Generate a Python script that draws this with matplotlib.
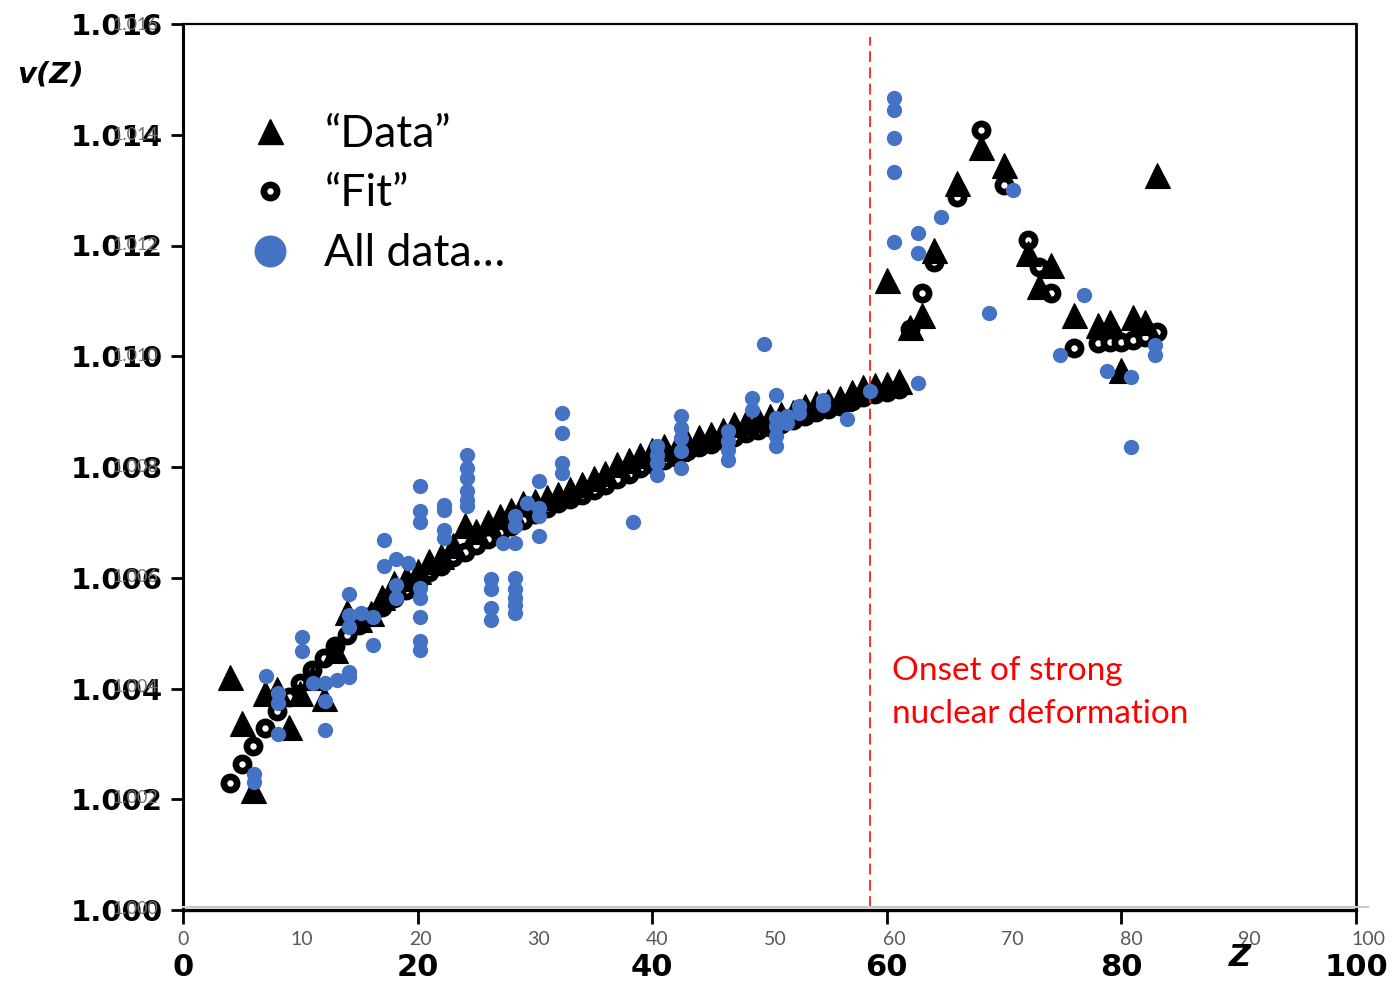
import matplotlib
matplotlib.use("Agg")
import matplotlib.pyplot as plt
from matplotlib.lines import Line2D

# ---- scanned reference curve: measured v(Z) ("Data") and model ("Fit") ----
data_z = [4, 5, 6, 7, 8, 9, 10, 11, 12, 13, 14, 15, 16, 17, 18, 19, 20, 21, 22, 23,
          24, 25, 26, 27, 28, 29, 30, 31, 32, 33, 34, 35, 36, 37, 38, 39, 40, 41, 42,
          43, 44, 45, 46, 47, 48, 49, 50, 51, 52, 53, 54, 55, 56, 57, 58, 59, 60, 61,
          60, 62, 63, 64, 66, 68, 70, 72, 73, 74, 76, 78, 79, 80, 81, 82, 83]
data_v = [1.00421, 1.00338, 1.00217, 1.00392, 1.00400, 1.00331, 1.00392, 1.00420,
          1.00383, 1.00470, 1.00538, 1.00525, 1.00537, 1.00565, 1.00590, 1.00600,
          1.00612, 1.00630, 1.00640, 1.00660, 1.00695, 1.00685, 1.00700, 1.00712,
          1.00722, 1.00735, 1.00738, 1.00745, 1.00752, 1.00760, 1.00770, 1.00780,
          1.00790, 1.00805, 1.00812, 1.00822, 1.00830, 1.00838, 1.00835, 1.00845,
          1.00855, 1.00860, 1.00866, 1.00878, 1.00882, 1.00886, 1.00892, 1.00895,
          1.00900, 1.00910, 1.00915, 1.00920, 1.00925, 1.00935, 1.00945, 1.00948,
          1.00950, 1.00955,
          1.01138, 1.01053, 1.01075, 1.01192, 1.01313, 1.01377, 1.01346, 1.01187,
          1.01126, 1.01165, 1.01075, 1.01057, 1.01061, 1.00976, 1.01070, 1.01061,
          1.01328]

fit_z = [4, 5, 6, 7, 8, 9, 10, 11, 12, 13, 14, 15, 16, 17, 18, 19, 20, 21, 22, 23,
         24, 25, 26, 27, 28, 29, 30, 31, 32, 33, 34, 35, 36, 37, 38, 39, 40, 41, 42,
         43, 44, 45, 46, 47, 48, 49, 50, 51, 52, 53, 54, 55, 56, 57, 58, 59, 60, 61,
         62, 63, 64, 66, 68, 70, 72, 73, 74, 76, 78, 79, 80, 81, 82, 83]
fit_v = [1.00229, 1.00264, 1.00296, 1.00329, 1.00360, 1.00385, 1.00410, 1.00434,
         1.00455, 1.00477, 1.00497, 1.00515, 1.00531, 1.00547, 1.00564, 1.00578,
         1.00593, 1.00611, 1.00621, 1.00638, 1.00647, 1.00659, 1.00670, 1.00683,
         1.00694, 1.00705, 1.00715, 1.00726, 1.00735, 1.00743, 1.00750, 1.00759,
         1.00768, 1.00779, 1.00788, 1.00799, 1.00806, 1.00813, 1.00818, 1.00829,
         1.00837, 1.00842, 1.00849, 1.00855, 1.00862, 1.00867, 1.00873, 1.00878,
         1.00885, 1.00893, 1.00900, 1.00905, 1.00911, 1.00920, 1.00927, 1.00932,
         1.00936, 1.00940,
         1.01050, 1.01115, 1.01171, 1.01288, 1.01409, 1.01310, 1.01210, 1.01162,
         1.01115, 1.01014, 1.01024, 1.01026, 1.01026, 1.01030, 1.01035, 1.01044]

# ---- full data set (all isotopes) ----
all_z = [6, 6, 7, 8, 8, 8, 10, 10, 11, 12, 12, 12, 13, 14, 14, 14, 14, 14, 15, 16, 16,
         17, 17, 18, 18, 18, 19, 20, 20, 20, 20, 20, 20, 20, 20, 22, 22, 22, 22,
         24, 24, 24, 24, 24, 24, 26, 26, 26, 26, 27, 28, 28, 28, 28, 28, 28, 28, 28,
         29, 30, 30, 30, 30, 32, 32, 32, 32, 38, 40, 40, 40, 40, 42, 42, 42, 42, 42,
         46, 46, 46, 46, 48, 48, 49, 50, 50, 50, 50, 50, 51, 51, 52, 52, 54, 54, 56,
         58, 60, 60, 60, 60, 60, 62, 62, 62, 64, 68, 70, 74, 76, 78, 80, 80, 82, 82]
all_v = [1.00240, 1.00226, 1.00419, 1.00388, 1.00370, 1.00314, 1.00488, 1.00464,
         1.00406, 1.00406, 1.00372, 1.00320, 1.00410, 1.00425, 1.00416, 1.00566,
         1.00528, 1.00506, 1.00533, 1.00524, 1.00475, 1.00665, 1.00618, 1.00629,
         1.00582, 1.00560, 1.00623, 1.00762, 1.00717, 1.00696, 1.00578, 1.00560,
         1.00524, 1.00482, 1.00466, 1.00728, 1.00719, 1.00683, 1.00668, 1.00818,
         1.00795, 1.00777, 1.00753, 1.00737, 1.00726, 1.00593, 1.00575, 1.00542,
         1.00520, 1.00659, 1.00708, 1.00690, 1.00659, 1.00596, 1.00575, 1.00560,
         1.00546, 1.00533, 1.00732, 1.00771, 1.00723, 1.00708, 1.00672, 1.00894,
         1.00858, 1.00804, 1.00786, 1.00696, 1.00835, 1.00818, 1.00804, 1.00782,
         1.00889, 1.00867, 1.00849, 1.00826, 1.00795, 1.00862, 1.00844, 1.00827,
         1.00809, 1.00921, 1.00900, 1.01019, 1.00927, 1.00885, 1.00871, 1.00853,
         1.00835, 1.00889, 1.00876, 1.00907, 1.00894, 1.00918, 1.00909, 1.00883,
         1.00934, 1.01465, 1.01442, 1.01391, 1.01330, 1.01203, 1.01220, 1.01183,
         1.00949, 1.01248, 1.01075, 1.01297, 1.00999, 1.01107, 1.00970, 1.00959,
         1.00833, 1.01017, 1.00999]

y_ticks = [1.000, 1.002, 1.004, 1.006, 1.008, 1.010, 1.012, 1.014, 1.016]
y_ticklabels = ["1.000", "1.002", "1.004", "1.006", "1.008", "1.010", "1.012", "1.014", "1.016"]
x_ticks_major = [0, 20, 40, 60, 80, 100]
x_ticks_minor = [0, 10, 20, 30, 40, 50, 60, 70, 80, 90, 100]
deformation_z = 58

W, H = 1399, 985
fig = plt.figure(figsize=(W / 100, H / 100), dpi=100)
fig.patch.set_facecolor("white")

# ---- scanned plot axes ----
ax = fig.add_axes([183 / W, (H - 910) / H, (1356 - 183) / W, (910 - 24) / H])
ax.set_xlim(0, 100)
ax.set_ylim(1.000, 1.016)
for side, lw in [("left", 2.2), ("bottom", 2.4), ("top", 1.6), ("right", 2.0)]:
    ax.spines[side].set_linewidth(lw)
    ax.spines[side].set_color("black")
ax.set_yticks(y_ticks)
ax.set_yticklabels(y_ticklabels)
ax.set_xticks(x_ticks_major)
ax.set_xticklabels([str(t) for t in x_ticks_major])
ax.tick_params(axis="y", direction="out", length=9, width=2, pad=5.5,
               labelsize=21, labelcolor="black")
ax.tick_params(axis="x", direction="out", length=10, width=2, pad=21,
               labelsize=22, labelcolor="black")
for lab in ax.get_yticklabels() + ax.get_xticklabels():
    lab.set_fontweight("bold")
    lab.set_family("DejaVu Sans")

ax.plot(fit_z, fit_v, linestyle="none", marker="o", ms=9.5, mfc="white",
        mec="black", mew=4.8, zorder=3)
ax.plot(data_z, data_v, linestyle="none", marker="^", ms=18, mfc="black",
        mec="black", mew=0.8, zorder=4)

fig.text(50 / W, 1 - 75 / H, "v(Z)", fontsize=21, fontweight="bold",
         fontstyle="italic", ha="center", va="center", family="DejaVu Sans")
fig.text(1240 / W, 1 - 958 / H, "Z", fontsize=22, fontweight="bold",
         fontstyle="italic", ha="center", va="center", family="DejaVu Sans")

# ---- overlay axes for the full data set ----
ax2 = fig.add_axes([183 / W, (H - 907) / H, (1368 - 183) / W, (907 - 23) / H])
ax2.patch.set_alpha(0)
ax2.set_xlim(0, 100)
ax2.set_ylim(1.000, 1.016)
for side in ["top", "right", "left"]:
    ax2.spines[side].set_visible(False)
ax2.spines["bottom"].set_color("#c8c8c8")
ax2.spines["bottom"].set_linewidth(1.5)
ax2.set_xticks(x_ticks_minor)
ax2.set_xticklabels([str(t) for t in x_ticks_minor])
ax2.set_yticks(y_ticks)
ax2.set_yticklabels(y_ticklabels)
ax2.tick_params(axis="x", length=0, pad=17, labelsize=14, labelcolor="#595959")
ax2.tick_params(axis="y", length=0, pad=18, labelsize=13, labelcolor="#707070")
for lab in ax2.get_xticklabels() + ax2.get_yticklabels():
    lab.set_family("Lato")

ax2.plot(all_z, all_v, linestyle="none", marker="o", ms=11, mfc="#4472C4",
         mec="#4472C4", mew=0, zorder=5)
ax2.axvline(deformation_z, ymin=0, ymax=0.984, color="#FF2020", lw=1.3,
            linestyle=(0, (6, 3)), zorder=2)
ax2.text(deformation_z + 1.8, 1.00455, "Onset of strong\nnuclear deformation",
         color="#FF0000", fontsize=24, family="Lato", ha="left", va="top",
         linespacing=1.55)

handles = [
    Line2D([], [], linestyle="none", marker="^", ms=18, mfc="black", mec="black"),
    Line2D([], [], linestyle="none", marker="o", ms=9.5, mfc="white", mec="black", mew=4.8),
    Line2D([], [], linestyle="none", marker="o", ms=22, mfc="#4472C4", mec="#4472C4"),
]
leg = ax2.legend(handles, ["\u201cData\u201d", "\u201cFit\u201d", "All data\u2026"],
                 loc="upper left", bbox_to_anchor=(231 / W, 1 - 96 / H),
                 bbox_transform=fig.transFigure, frameon=False,
                 prop={"family": "Lato", "size": 32}, handlelength=0.95,
                 handletextpad=0.75, labelspacing=0.42, borderaxespad=0)

fig.savefig("out.png", dpi=100, facecolor="white")
